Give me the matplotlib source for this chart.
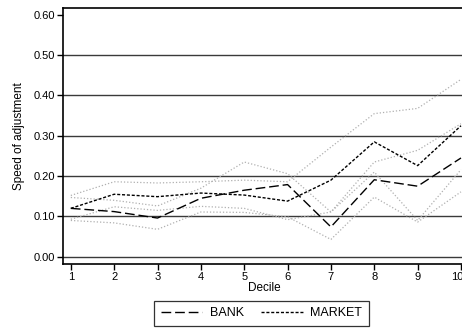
import matplotlib
matplotlib.use("Agg")
import matplotlib.pyplot as plt
import matplotlib.transforms as mtransforms

plt.rcParams['font.family'] = ['Liberation Sans', 'DejaVu Sans']

deciles = [1, 2, 3, 4, 5, 6, 7, 8, 9, 10]
bank = [0.120, 0.112, 0.096, 0.145, 0.165, 0.179, 0.074, 0.191, 0.175, 0.245]
market = [0.120, 0.155, 0.149, 0.158, 0.153, 0.138, 0.190, 0.285, 0.226, 0.325]

# confidence bounds drawn as light dotted lines
band_a = [0.152, 0.186, 0.183, 0.186, 0.190, 0.186, 0.272, 0.355, 0.368, 0.440]
band_b = [0.147, 0.140, 0.126, 0.170, 0.235, 0.206, 0.111, 0.235, 0.264, 0.330]
band_c = [0.093, 0.124, 0.115, 0.125, 0.120, 0.092, 0.111, 0.210, 0.090, 0.216]
band_d = [0.090, 0.084, 0.068, 0.111, 0.110, 0.099, 0.043, 0.148, 0.086, 0.161]

yticks = [0.0, 0.1, 0.2, 0.3, 0.4, 0.5, 0.6]
ytick_labels = ["0.00", "0.10", "0.20", "0.30", "0.40", "0.50", "0.60"]

fig = plt.figure(figsize=(4.62, 3.29), dpi=100)
ax = fig.add_axes([63 / 462, 1 - 264 / 329, 1 - 63 / 462 + 0.01, (264 - 8) / 329])

for yv in yticks[:-1]:
    ax.axhline(yv, color="#3a3a3a", lw=1.0, zorder=1)

for band in (band_a, band_b, band_c, band_d):
    ax.plot(deciles, band, color="#b0b0b0", lw=0.9, linestyle=(0, (1, 1.6)), zorder=2)

ax.plot(deciles, bank, color="black", lw=1.0, linestyle=(0, (7, 2.8)), label="BANK", zorder=3)
ax.plot(deciles, market, color="black", lw=1.0, linestyle=(0, (2.2, 1.3)), label="MARKET", zorder=3)

ax.set_xlim(0.82, 10.13)
ax.set_ylim(-0.018, 0.617)
ax.set_xticks(deciles)
ax.set_xticklabels([str(d) for d in deciles])
ax.set_yticks(yticks)
ax.set_yticklabels(ytick_labels)
ax.tick_params(axis="both", direction="out", length=4, width=1, labelsize=8, pad=2, color="black")

# nudge the last decile label so it stays inside the figure edge
last = ax.get_xticklabels()[-1]
last.set_transform(last.get_transform() + mtransforms.ScaledTranslation(-4 / 100, 0, fig.dpi_scale_trans))

for side in ("left", "bottom", "top"):
    ax.spines[side].set_linewidth(1.2)
    ax.spines[side].set_color("black")
ax.spines["right"].set_visible(False)

ax.set_xlabel("Decile", fontsize=8.5, labelpad=0)
ax.set_ylabel("Speed of adjustment", fontsize=8.5, labelpad=6)

leg = fig.legend(loc="center", bbox_to_anchor=(261.5 / 462, 1 - 313.5 / 329), ncol=2,
                 fontsize=9, frameon=True, fancybox=False, edgecolor="black",
                 handlelength=3.3, columnspacing=1.4, borderpad=0.55, handletextpad=0.6)
leg.get_frame().set_linewidth(0.9)

fig.savefig("out.png", dpi=100)
